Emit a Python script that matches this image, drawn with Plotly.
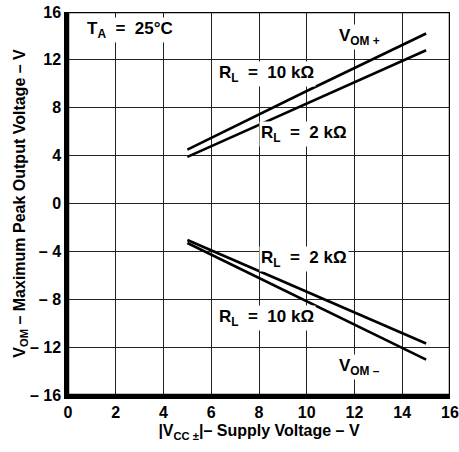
import plotly.graph_objects as go

# Data
x_supply = [5, 10, 15]
vom_pos_10k = [4.5, 9.4, 14.2]
vom_pos_2k = [3.9, 8.35, 12.8]
vom_neg_2k = [-3.05, -7.4, -11.7]
vom_neg_10k = [-3.3, -8.15, -13.05]

x_ticks = [0, 2, 4, 6, 8, 10, 12, 14, 16]
x_ticklabels = ["0", "2", "4", "6", "8", "10", "12", "14", "16"]
y_ticks = [-16, -12, -8, -4, 0, 4, 8, 12, 16]
y_ticklabels = ["– 16", "– 12", "– 8", "– 4", "0", "4", "8", "12", "16"]

FONT = "Liberation Sans, Arial, sans-serif"

fig = go.Figure()
for ys in [vom_pos_10k, vom_pos_2k, vom_neg_2k, vom_neg_10k]:
    fig.add_trace(go.Scatter(x=x_supply, y=ys, mode="lines",
                             line=dict(color="black", width=2.6),
                             showlegend=False, hoverinfo="skip"))

ann_font = dict(family=FONT, size=17, color="black", weight="bold")
labels = [
    (2.6, 14.5, "T<sub>A</sub>  =  25°C"),
    (12.2, 13.9, "V<sub>OM +</sub>"),
    (8.3, 10.8, "R<sub>L</sub>  =  10 kΩ"),
    (9.9, 5.8, "R<sub>L</sub>  =  2 kΩ"),
    (9.9, -4.6, "R<sub>L</sub>  =  2 kΩ"),
    (8.3, -9.6, "R<sub>L</sub>  =  10 kΩ"),
    (12.2, -13.7, "V<sub>OM –</sub>"),
]
for x, y, t in labels:
    fig.add_annotation(x=x, y=y, text=t, showarrow=False, font=ann_font,
                       bgcolor="white", borderpad=1)

fig.add_shape(type="rect", xref="x", yref="y", x0=0, x1=16, y0=-16, y1=16,
              line=dict(color="black", width=2.5), layer="above")

tick_font = dict(family=FONT, size=16, color="black", weight="bold")
title_font = dict(family=FONT, size=16, color="black", weight="bold")
fig.update_xaxes(range=[0, 16], tickvals=x_ticks, ticktext=x_ticklabels,
                 showgrid=True, gridcolor="#222", gridwidth=1,
                 showline=True, linecolor="black", linewidth=3.5,
                 zeroline=False, ticks="", tickfont=tick_font, automargin=False,
                 title=dict(text="|V<sub>CC ±</sub>|– Supply Voltage – V",
                            font=title_font, standoff=6))
fig.update_yaxes(range=[-16, 16], tickvals=y_ticks, ticktext=y_ticklabels,
                 showgrid=True, gridcolor="#222", gridwidth=1,
                 showline=True, linecolor="black", linewidth=3.5,
                 zeroline=False, ticks="", tickfont=tick_font, automargin=False,
                 title=dict(text="V<sub>OM</sub> – Maximum Peak Output Voltage – V",
                            font=title_font, standoff=0))

fig.update_layout(width=459, height=452,
                  margin=dict(l=68, r=9, t=12, b=57, autoexpand=False),
                  plot_bgcolor="white", paper_bgcolor="white",
                  font=dict(family=FONT, color="black"))

# remove the browser's default 8px body margin so the figure sits at (0, 0)
fig.write_html("out.html",
               config={"displayModeBar": False},
               post_script="document.body.style.margin='0px';document.body.style.overflow='hidden';")
